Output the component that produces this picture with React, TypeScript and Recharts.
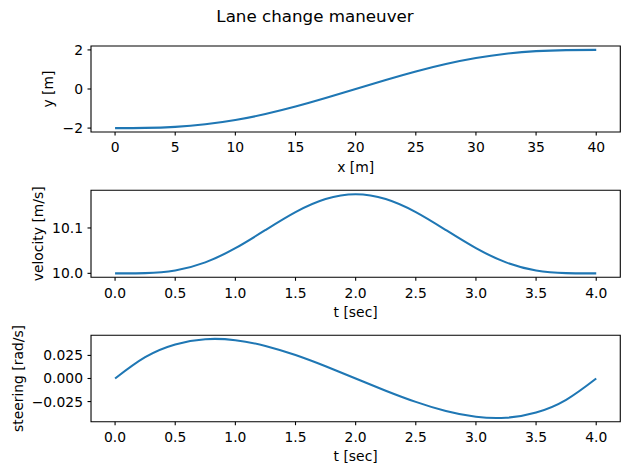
import { LineChart, Line, XAxis, YAxis, ReferenceArea } from 'recharts';

// path of the maneuver, sampled every 2.5 m
const xPos = [0, 2.5, 5, 7.5, 10, 12.5, 15, 17.5, 20, 22.5, 25, 27.5, 30, 32.5, 35, 37.5, 40];
const yPos = [-2, -1.991, -1.936, -1.805, -1.586, -1.28, -0.899, -0.464, 0, 0.464, 0.899, 1.28, 1.586, 1.805, 1.936, 1.991, 2];

// time histories, sampled every 0.25 s
const tSec = [0, 0.25, 0.5, 0.75, 1, 1.25, 1.5, 1.75, 2, 2.25, 2.5, 2.75, 3, 3.25, 3.5, 3.75, 4];
const velocity = [10, 10.0005, 10.0064, 10.0242, 10.0555, 10.0954, 10.1349, 10.1637, 10.1743, 10.1637, 10.1349, 10.0954, 10.0555, 10.0242, 10.0064, 10.0005, 10];
const steering = [0, 0.02307, 0.03684, 0.04254, 0.04149, 0.03524, 0.02533, 0.01318, 0, -0.01318, -0.02533, -0.03524, -0.04149, -0.04254, -0.03684, -0.02307, 0];

const xTicks = [0, 5, 10, 15, 20, 25, 30, 35, 40];
const yTicks = [-2, 0, 2];
const tTicks = [0, 0.5, 1, 1.5, 2, 2.5, 3, 3.5, 4];
const vTicks = [10.0, 10.1];
const sTicks = [-0.025, 0, 0.025];

const BLUE = '#1f77b4';
const FONT = 'DejaVu Sans, sans-serif';
const TICK_FS = 13.9;

// matplotlib-style 5% margins around the data range
function padded(vals: number[]): [number, number] {
  const lo = Math.min(...vals);
  const hi = Math.max(...vals);
  const m = (hi - lo) * 0.05;
  return [lo - m, hi + m];
}

const minus = (s: string) => s.replace('-', '\u2212');

function XTitle({ viewBox, value }: any) {
  const cx = viewBox.x + viewBox.width / 2;
  return (
    <text x={cx} y={viewBox.y + 39.5} textAnchor="middle" fontSize={TICK_FS} fill="#000">
      {value}
    </text>
  );
}

function YTitle({ viewBox, value, cx }: any) {
  const cy = viewBox.y + viewBox.height / 2;
  return (
    <text
      x={cx}
      y={cy}
      transform={`rotate(-90 ${cx} ${cy})`}
      textAnchor="middle"
      dominantBaseline="central"
      fontSize={TICK_FS}
      fill="#000"
    >
      {value}
    </text>
  );
}

interface PanelProps {
  top: number;
  marginTop: number;
  plotHeight: number;
  xs: number[];
  ys: number[];
  xDomain: [number, number];
  yDomain: [number, number];
  xTicks: number[];
  yTicks: number[];
  xFmt: (v: number) => string;
  yFmt: (v: number) => string;
  xLabel: string;
  yLabel: string;
  yLabelX: number;
}

function Panel(p: PanelProps) {
  const rows = p.xs.map((x, i) => ({ x, y: p.ys[i] }));
  const axisH = 45;
  const tick = { fontSize: TICK_FS, fill: '#000', fontFamily: FONT };
  return (
    <div style={{ position: 'absolute', left: 0, top: p.top }}>
      <LineChart
        width={630}
        height={p.marginTop + p.plotHeight + axisH}
        data={rows}
        margin={{ top: p.marginTop, right: 9.7, bottom: 0, left: 0 }}
      >
        <XAxis
          type="number"
          dataKey="x"
          domain={p.xDomain}
          ticks={p.xTicks}
          tickFormatter={(v) => minus(p.xFmt(v))}
          allowDataOverflow
          height={axisH}
          axisLine={false}
          tickLine={{ stroke: '#000', strokeWidth: 1.1 }}
          tickSize={3.5}
          tickMargin={7}
          tick={tick}
          label={<XTitle value={p.xLabel} />}
        />
        <YAxis
          type="number"
          domain={p.yDomain}
          ticks={p.yTicks}
          tickFormatter={(v) => minus(p.yFmt(v))}
          allowDataOverflow
          width={91}
          axisLine={false}
          tickLine={{ stroke: '#000', strokeWidth: 1.1 }}
          tickSize={3.5}
          tickMargin={4.5}
          tick={tick}
          label={<YTitle value={p.yLabel} cx={p.yLabelX} />}
        />
        <Line
          type="natural"
          dataKey="y"
          stroke={BLUE}
          strokeWidth={2.1}
          dot={false}
          isAnimationActive={false}
        />
        <ReferenceArea
          x1={p.xDomain[0]}
          x2={p.xDomain[1]}
          y1={p.yDomain[0]}
          y2={p.yDomain[1]}
          fill="none"
          fillOpacity={0}
          stroke="#000"
          strokeWidth={1.1}
          strokeOpacity={1}
        />
      </LineChart>
    </div>
  );
}

export default function App() {
  return (
    <div
      style={{
        position: 'absolute',
        left: 0,
        top: 0,
        width: 630,
        height: 475,
        background: '#fff',
        fontFamily: FONT,
      }}
    >
      <svg width={630} height={40} style={{ position: 'absolute', left: 0, top: 0 }}>
        <text x={315} y={21.5} textAnchor="middle" fontSize={16.7} fill="#000">
          Lane change maneuver
        </text>
      </svg>
      <Panel
        top={0}
        marginTop={46}
        plotHeight={86}
        xs={xPos}
        ys={yPos}
        xDomain={padded(xPos)}
        yDomain={padded(yPos)}
        xTicks={xTicks}
        yTicks={yTicks}
        xFmt={(v) => String(v)}
        yFmt={(v) => String(v)}
        xLabel="x [m]"
        yLabel="y [m]"
        yLabelX={47.5}
      />
      <Panel
        top={180}
        marginTop={10.3}
        plotHeight={87}
        xs={tSec}
        ys={velocity}
        xDomain={padded(tSec)}
        yDomain={padded(velocity)}
        xTicks={tTicks}
        yTicks={vTicks}
        xFmt={(v) => v.toFixed(1)}
        yFmt={(v) => v.toFixed(1)}
        xLabel="t [sec]"
        yLabel="velocity [m/s]"
        yLabelX={37.5}
      />
      <Panel
        top={325}
        marginTop={10.3}
        plotHeight={86.4}
        xs={tSec}
        ys={steering}
        xDomain={padded(tSec)}
        yDomain={padded(steering)}
        xTicks={tTicks}
        yTicks={sTicks}
        xFmt={(v) => v.toFixed(1)}
        yFmt={(v) => v.toFixed(3)}
        xLabel="t [sec]"
        yLabel="steering [rad/s]"
        yLabelX={17.5}
      />
    </div>
  );
}
